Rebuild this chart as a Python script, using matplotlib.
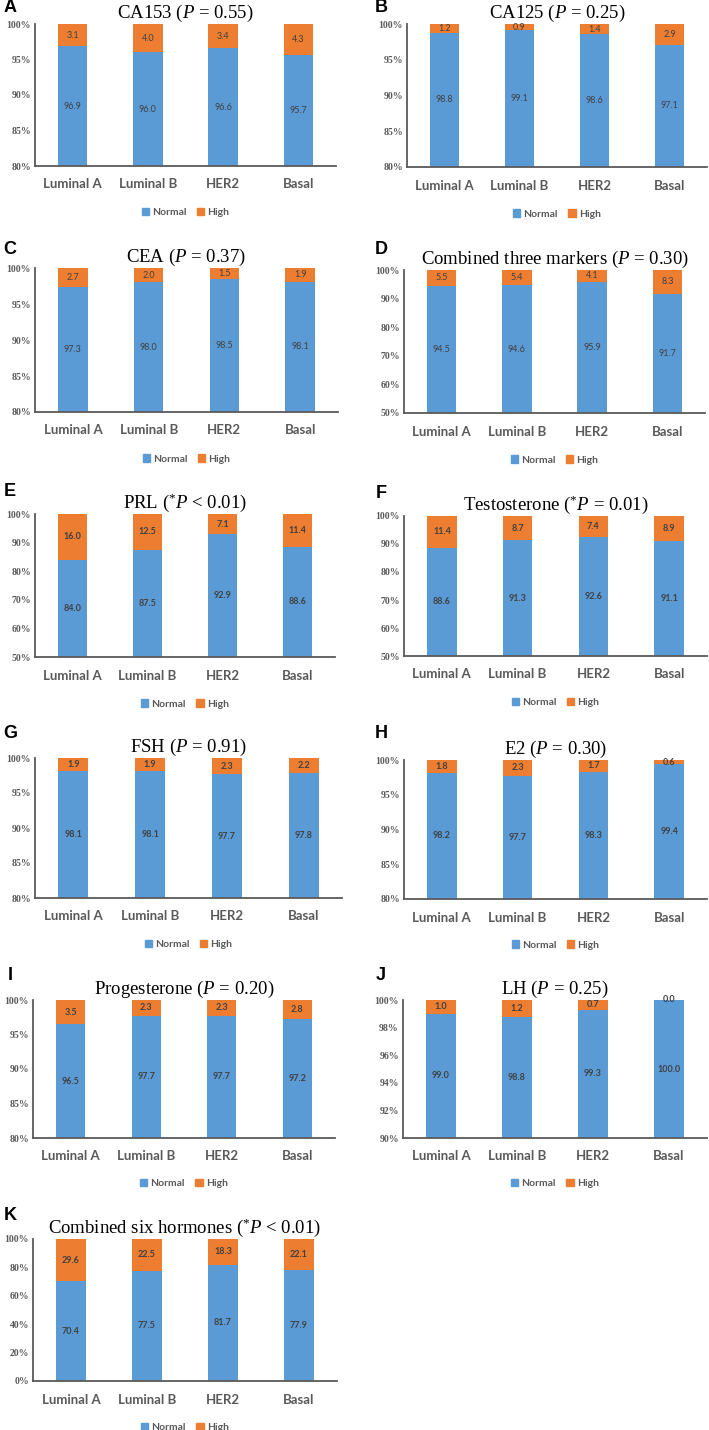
import matplotlib
matplotlib.use("Agg")
import matplotlib.pyplot as plt
from matplotlib.patches import Patch

plt.rcParams['mathtext.fontset'] = 'custom'
plt.rcParams['mathtext.rm'] = 'Liberation Serif'
plt.rcParams['mathtext.it'] = 'Liberation Serif:italic'

W, H = 709, 1430

categories = ["Luminal A", "Luminal B", "HER2", "Basal"]

# valeurs (Normal / High, en %)
ca153_normal = [96.9, 96.0, 96.6, 95.7]
ca153_high = [3.1, 4.0, 3.4, 4.3]
ca125_normal = [98.8, 99.1, 98.6, 97.1]
ca125_high = [1.2, 0.9, 1.4, 2.9]
cea_normal = [97.3, 98.0, 98.5, 98.1]
cea_high = [2.7, 2.0, 1.5, 1.9]
three_normal = [94.5, 94.6, 95.9, 91.7]
three_high = [5.5, 5.4, 4.1, 8.3]
prl_normal = [84.0, 87.5, 92.9, 88.6]
prl_high = [16.0, 12.5, 7.1, 11.4]
testo_normal = [88.6, 91.3, 92.6, 91.1]
testo_high = [11.4, 8.7, 7.4, 8.9]
fsh_normal = [98.1, 98.1, 97.7, 97.8]
fsh_high = [1.9, 1.9, 2.3, 2.2]
e2_normal = [98.2, 97.7, 98.3, 99.4]
e2_high = [1.8, 2.3, 1.7, 0.6]
prog_normal = [96.5, 97.7, 97.7, 97.2]
prog_high = [3.5, 2.3, 2.3, 2.8]
lh_normal = [99.0, 98.8, 99.3, 100.0]
lh_high = [1.0, 1.2, 0.7, 0.0]
six_normal = [70.4, 77.5, 81.7, 77.9]
six_high = [29.6, 22.5, 18.3, 22.1]

BLUE = "#5B9BD5"
ORANGE = "#ED7D31"
GREY = "#595959"
DARK = "#404040"

# (lettre, titre, normal, high, ymin, pas, rect px gauche/droite/haut/bas, gras)
panels = [
    ("A", "CA153 ($P$ = 0.55)", ca153_normal, ca153_high, 80, 5, (35, 336, 24, 166), False),
    ("B", "CA125 ($P$ = 0.25)", ca125_normal, ca125_high, 80, 5, (407, 707, 24, 167), False),
    ("C", "CEA ($P$ = 0.37)", cea_normal, cea_high, 80, 5, (35, 338, 268, 412), False),
    ("D", "Combined three markers ($P$ = 0.30)", three_normal, three_high, 50, 10, (404, 705, 270, 413), False),
    ("E", "PRL ($^{*}P$ < 0.01)", prl_normal, prl_high, 50, 10, (35, 335, 514, 657), True),
    ("F", "Testosterone ($^{*}P$ = 0.01)", testo_normal, testo_high, 50, 10, (404, 707, 516, 656), True),
    ("G", "FSH ($P$ = 0.91)", fsh_normal, fsh_high, 80, 5, (35, 342, 758, 898), True),
    ("H", "E2 ($P$ = 0.30)", e2_normal, e2_high, 80, 5, (404, 707, 760, 899), True),
    ("I", "Progesterone ($P$ = 0.20)", prog_normal, prog_high, 80, 5, (33, 335, 1000, 1138), True),
    ("J", "LH ($P$ = 0.25)", lh_normal, lh_high, 90, 2, (403, 707, 1000, 1138), True),
    ("K", "Combined six hormones ($^{*}P$ < 0.01)", six_normal, six_high, 0, 20, (33, 337, 1239, 1381), True),
]

fig = plt.figure(figsize=(W / 100, H / 100), dpi=100)

for lettre, titre, normal, high, ymin, pas, (x0, x1, y0, y1), gras in panels:
    ax = fig.add_axes([x0 / W, 1 - y1 / H, (x1 - x0) / W, (y1 - y0) / H])
    x = range(len(categories))
    ax.bar(x, normal, width=0.39, color=BLUE, label="Normal", zorder=2)
    ax.bar(x, high, width=0.39, bottom=normal, color=ORANGE, label="High", zorder=2)
    ax.set_xlim(-0.5, 3.5)
    ax.set_ylim(ymin, 100)
    ticks = list(range(ymin, 101, pas))
    ax.set_yticks(ticks)
    ax.set_yticklabels([f"{t}%" for t in ticks], fontfamily="Liberation Serif",
                       fontweight="bold", fontsize=7, color=GREY)
    ax.set_xticks(list(x))
    ax.set_xticklabels(categories, fontfamily="Lato", fontweight="bold",
                       fontsize=9.5, color=GREY)
    ax.tick_params(length=0, pad=3)
    ax.tick_params(axis="x", pad=9)
    for s in ["top", "right"]:
        ax.spines[s].set_visible(False)
    for s in ["left", "bottom"]:
        ax.spines[s].set_color(GREY)
        ax.spines[s].set_linewidth(1.3)

    poids = "bold" if gras else "normal"
    for i in x:
        yb = (ymin + normal[i]) / 2
        ax.text(i, yb, f"{normal[i]:.1f}", ha="center", va="center", fontsize=6.5,
                color=DARK, fontweight=poids, fontfamily="Lato")
        yh = normal[i] + high[i] / 2
        ax.text(i, yh, f"{high[i]:.1f}", ha="center", va="center", fontsize=6.5,
                color=DARK, fontweight=poids, fontfamily="Lato")

    ax.set_title(titre, fontfamily="Liberation Serif", fontsize=13.5, pad=4)
    ax.legend(handles=[Patch(color=BLUE, label="Normal"), Patch(color=ORANGE, label="High")],
              loc="upper center", bbox_to_anchor=(0.5, -0.23), ncol=2, frameon=False,
              prop={"family": "Lato", "weight": "bold", "size": 7.5},
              handlelength=0.7, handleheight=0.7, handletextpad=0.3, columnspacing=1.0,
              labelcolor=GREY)

    lx = 10 if x0 < 100 else 381
    ly = {24: 8, 268: 250, 270: 250, 514: 492, 516: 494, 758: 733, 760: 733,
          1000: 975, 1239: 1215}[y0]
    fig.text(lx / W, 1 - ly / H, lettre, fontfamily="Liberation Sans", fontweight="bold",
             fontsize=13, ha="center", va="center")

fig.savefig("out.png", dpi=100)
